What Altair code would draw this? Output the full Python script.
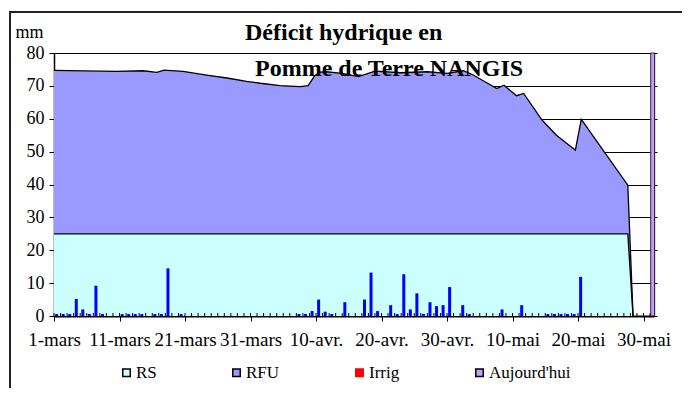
import altair as alt
import pandas as pd

# ---- data ----
title_lines = ["Déficit hydrique en", "Pomme de Terre NANGIS"]

tick_days = [0, 10, 20, 30, 40, 50, 60, 70, 80, 90]
tick_labels = ["1-mars", "11-mars", "21-mars", "31-mars", "10-avr.",
               "20-avr.", "30-avr.", "10-mai", "20-mai", "30-mai"]

# total reserve (RS + RFU) outline
curve_day = [0, 9.5, 13.6, 15.7, 16.8, 19.7, 23.3, 26.4, 29.4, 31.5, 34.5, 37.6,
             38.8, 39.3, 39.8, 40.6, 41.5, 44, 46.5, 49, 53, 57, 60, 62.5, 64,
             67.6, 68.7, 70.6, 71.7, 74.5, 76.7, 78.3, 79.6, 80.5, 87.6, 88.4]
curve_total = [74.7, 74.4, 74.6, 74.1, 74.8, 74.4, 73.3, 72.4, 71.4, 70.8, 70.1, 69.8,
               70.1, 71.6, 73.1, 74.2, 74.3, 73.8, 72.8, 74.5, 74.0, 74.3, 73.8, 74.6, 73.3,
               69.2, 70.2, 67.0, 67.7, 59.6, 55.0, 52.5, 50.5, 59.8, 39.8, 0]

rs_day = [0, 87.6, 88.4]
rs_value = [25, 25, 0]

rain_day = [0, 1, 2, 3, 4, 5, 6, 7, 10, 11, 12, 13, 15, 16, 17, 19,
            37, 38, 39, 40, 41, 42, 44, 47, 48, 49, 51, 52, 53, 54, 55, 56, 57, 58,
            59, 60, 62, 63, 68, 71, 75, 76, 77, 78, 79, 80]
rain_mm = [0.6, 0.6, 0.6, 5.2, 2.0, 0.6, 9.2, 0.6, 0.6, 0.6, 0.6, 0.6, 0.6, 0.6, 14.5, 0.6,
           0.6, 0.6, 1.5, 5.0, 1.3, 0.6, 4.2, 5.0, 13.2, 1.5, 3.3, 0.6, 12.7, 2.0, 6.9, 0.6,
           4.2, 3.0, 3.3, 8.8, 3.3, 0.6, 2.0, 3.3, 0.6, 0.6, 0.6, 0.6, 0.6, 11.9]

today_day = [91]
today_value = [80]

minor_tick_days = list(range(0, 92))

series = ["RS", "RFU", "Irrig", "Aujourd'hui"]
series_colors = ["#CCFFFF", "#9999FF", "#FF0000", "#CC99FF"]
series_outline = ["#000000", "#000000", "#FF0000", "#000000"]

FONT = "Liberation Serif"

# ---- tables ----
total_df = pd.DataFrame({"day": curve_day, "val": curve_total})
total_df["base"] = 0.0
rs_df = pd.DataFrame({"day": rs_day, "val": rs_value})
rs_df["base"] = 0.0
rain_df = pd.DataFrame({"day": rain_day, "val": rain_mm})
today_df = pd.DataFrame({"day": today_day, "val": today_value, "serie": "Aujourd'hui"})
minor_df = pd.DataFrame({"day": minor_tick_days, "lo": 0, "hi": 0.9})
frame_df = pd.DataFrame({"k": [0]})
title1_df = pd.DataFrame({"t": [title_lines[0]]})
title2_df = pd.DataFrame({"t": [title_lines[1]]})

label_expr = "[" + ",".join("'%s'" % t for t in tick_labels) + "][round(datum.value/10)]"

xscale = alt.Scale(domain=[0, 91.6], nice=False, zero=False, padding=0)
yscale = alt.Scale(domain=[0, 80], nice=False)

xaxis = alt.Axis(values=tick_days, labelExpr=label_expr, title=None, grid=False,
                 tickSize=5, tickColor="black", tickWidth=1, labelPadding=9,
                 domainColor="black", domainWidth=2, labelFont=FONT, labelFontSize=19,
                 labelColor="black", labelFlush=False, labelOverlap=False, labelBound=False)

yaxis = alt.Axis(values=list(range(0, 81, 10)), grid=True, gridColor="black", gridWidth=1,
                 gridOpacity=1, tickSize=5, tickColor="black", labelPadding=5,
                 domainColor="black", domainWidth=1.5, labelFont=FONT, labelFontSize=18,
                 labelColor="black", title="mm", titleAngle=0, titleX=-39, titleY=-16,
                 titleAlign="left", titleBaseline="alphabetic", titleFont=FONT,
                 titleFontSize=18, titleFontWeight="normal", titleColor="black")

yaxis_right = alt.Axis(orient="right", values=list(range(0, 81, 10)), labels=False,
                       grid=False, tickSize=3, tickColor="black", domainColor="black",
                       domainWidth=1, title=None)

legend = alt.Legend(title=None, orient="none", legendX=64, legendY=311,
                    direction="horizontal", columnPadding=71,
                    symbolType="square", symbolSize=56, symbolStrokeWidth=1.5,
                    symbolOpacity=1, labelFont=FONT, labelFontSize=17,
                    labelColor="black", labelOffset=1)

color_enc = alt.Color("serie:N", scale=alt.Scale(domain=series, range=series_colors),
                      legend=legend)
stroke_enc = alt.Stroke("serie:N", scale=alt.Scale(domain=series, range=series_outline),
                        legend=legend)

total_area = alt.Chart(total_df).mark_area(color="#9999FF", opacity=1).encode(
    x=alt.X("day:Q", scale=xscale, axis=xaxis),
    y=alt.Y("val:Q", scale=yscale, axis=yaxis),
    y2="base:Q",
)
rs_area = alt.Chart(rs_df).mark_area(color="#CCFFFF", opacity=1).encode(
    x=alt.X("day:Q", scale=xscale, axis=xaxis),
    y=alt.Y("val:Q", scale=yscale, axis=None),
    y2="base:Q",
)
total_line = alt.Chart(total_df).mark_line(color="black", strokeWidth=1.3).encode(
    x=alt.X("day:Q", scale=xscale, axis=xaxis),
    y=alt.Y("val:Q", scale=yscale, axis=None),
    order=alt.Order("day:Q"),
)
rs_line = alt.Chart(rs_df).mark_line(color="black", strokeWidth=1.3).encode(
    x=alt.X("day:Q", scale=xscale, axis=xaxis),
    y=alt.Y("val:Q", scale=yscale, axis=None),
    order=alt.Order("day:Q"),
)
minor = alt.Chart(minor_df).mark_rule(color="black", strokeWidth=1).encode(
    x=alt.X("day:Q", scale=xscale, axis=xaxis),
    y=alt.Y("lo:Q", scale=yscale, axis=None),
    y2="hi:Q",
)
rain = alt.Chart(rain_df).transform_calculate(pos="datum.day + 0.4").mark_bar(
    color="#0000FF", size=3).encode(
    x=alt.X("pos:Q", scale=xscale, axis=xaxis),
    y=alt.Y("val:Q", scale=yscale, axis=None),
)
today = alt.Chart(today_df).transform_calculate(pos="datum.day + 0.4").mark_bar(
    size=4, strokeWidth=0.8, opacity=1).encode(
    x=alt.X("pos:Q", scale=xscale, axis=xaxis),
    y=alt.Y("val:Q", scale=yscale, axis=yaxis_right),
    color=color_enc,
    stroke=stroke_enc,
)
frame = alt.Chart(frame_df).mark_rect(filled=False, stroke="#222222", strokeWidth=2).encode(
    x=alt.value(-44), x2=alt.value(629), y=alt.value(-41), y2=alt.value(345)
)
title1 = alt.Chart(title1_df).mark_text(
    align="left", baseline="alphabetic", font=FONT, fontSize=24, fontWeight="bold",
    color="black").encode(text="t:N", x=alt.value(191), y=alt.value(-13))
title2 = alt.Chart(title2_df).mark_text(
    align="left", baseline="alphabetic", font=FONT, fontSize=24, fontWeight="bold",
    color="black").encode(text="t:N", x=alt.value(201), y=alt.value(23))

chart = alt.layer(total_area, rs_area, total_line, rs_line, minor, rain, today, frame,
                  title1, title2).resolve_scale(
    y="independent"
).properties(
    width=600, height=263,
    autosize=alt.AutoSizeParams(type="none"),
    padding={"left": 46, "top": 45, "right": 28, "bottom": 72},
).configure_view(stroke=None).configure_legend(
    labelFont=FONT, labelFontSize=17, labelColor="black"
).configure(background="white", font=FONT)

chart.save("out.html", embed_options={"renderer": "svg", "actions": False})
